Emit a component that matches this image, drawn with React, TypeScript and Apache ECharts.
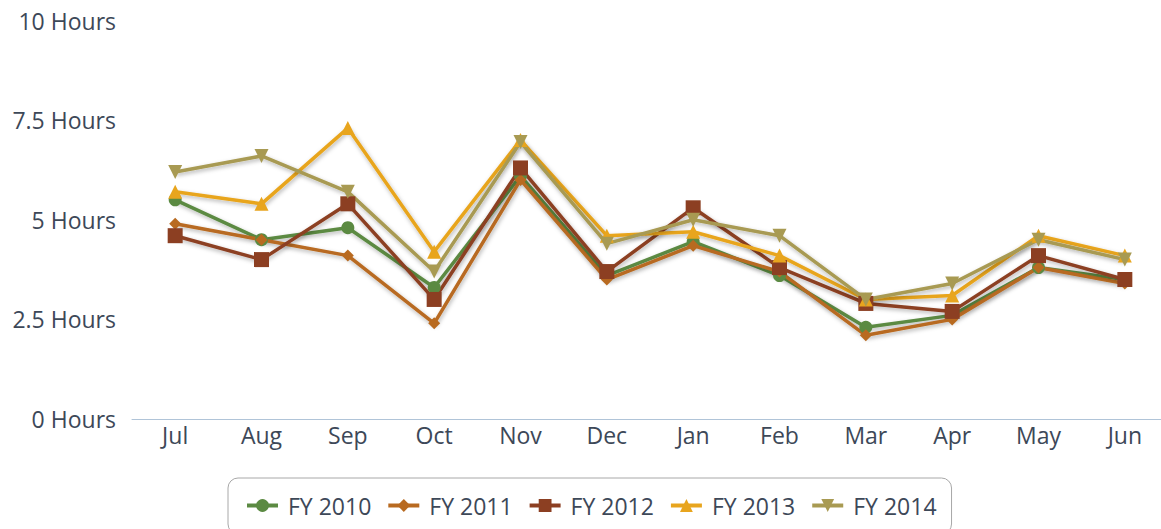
import React, { useEffect, useRef } from "react";
import * as echarts from "echarts";

const months = ["Jul", "Aug", "Sep", "Oct", "Nov", "Dec", "Jan", "Feb", "Mar", "Apr", "May", "Jun"];
const seriesNames = ["FY 2010", "FY 2011", "FY 2012", "FY 2013", "FY 2014"];
const fy2010 = [5.5, 4.5, 4.8, 3.3, 6.1, 3.6, 4.45, 3.6, 2.3, 2.6, 3.8, 3.5];
const fy2011 = [4.9, 4.5, 4.1, 2.4, 6.0, 3.5, 4.35, 3.7, 2.1, 2.5, 3.8, 3.4];
const fy2012 = [4.6, 4.0, 5.4, 3.0, 6.3, 3.7, 5.3, 3.8, 2.9, 2.7, 4.1, 3.5];
const fy2013 = [5.7, 5.4, 7.3, 4.2, 7.0, 4.6, 4.7, 4.1, 3.0, 3.1, 4.6, 4.1];
const fy2014 = [6.2, 6.6, 5.7, 3.7, 6.95, 4.4, 5.0, 4.6, 3.0, 3.4, 4.5, 4.0];
const yTicks = [0, 2.5, 5, 7.5, 10];

const colors = ["#5b8a42", "#b86a20", "#8c3f22", "#e8a51e", "#a89a52"];
const symbols = ["circle", "diamond", "rect", "triangle", "triangle"];
const symbolSizes = [13, 12, 15, 14, 14];
const rotates = [0, 0, 0, 0, 180];
const allData = [fy2010, fy2011, fy2012, fy2013, fy2014];

const FONT = "'Open Sans', sans-serif";
const TEXT = "#3d4858";

export default function App() {
  const ref = useRef<HTMLDivElement>(null);
  useEffect(() => {
    if (!ref.current) return;
    const chart = echarts.init(ref.current, undefined, { renderer: "svg" });
    chart.setOption({
      animation: false,
      textStyle: { fontFamily: FONT },
      grid: { left: 132, right: 0, top: 20.5, bottom: 110, containLabel: false },
      legend: {
        data: seriesNames,
        left: 228,
        top: 478,
        orient: "horizontal",
        itemWidth: 31,
        itemHeight: 16,
        itemGap: 15,
        padding: [16, 15, 17, 17],
        borderColor: "#a8a8a8",
        borderWidth: 1,
        borderRadius: 10,
        lineStyle: { width: 4 },
        textStyle: { color: TEXT, fontSize: 23, fontFamily: FONT, padding: [0, 0, 0, 5] },
      },
      xAxis: {
        type: "category",
        data: months,
        boundaryGap: true,
        axisLine: { lineStyle: { color: "#b0c4d8", width: 1 } },
        axisTick: { lineStyle: { color: "#b0c4d8" }, length: 7 },
        axisLabel: { color: TEXT, fontSize: 23, margin: 4, fontFamily: FONT },
        splitLine: { show: false },
      },
      yAxis: {
        type: "value",
        min: yTicks[0],
        max: yTicks[yTicks.length - 1],
        interval: 2.5,
        axisLine: { show: false },
        axisTick: { show: false },
        splitLine: { show: false },
        axisLabel: {
          color: TEXT,
          fontSize: 23,
          margin: 16,
          fontFamily: FONT,
          formatter: (v: number) => `${v} Hours`,
        },
      },
      series: allData.map((d, i) => ({
        name: seriesNames[i],
        type: "line",
        data: d,
        symbol: symbols[i],
        symbolSize: symbolSizes[i],
        symbolRotate: rotates[i],
        showAllSymbol: true,
        color: colors[i],
        lineStyle: {
          width: 3.5,
          color: colors[i],
          shadowColor: "rgba(0,0,0,0.3)",
          shadowBlur: 4,
          shadowOffsetX: 1,
          shadowOffsetY: 2,
        },
        itemStyle: { color: colors[i] },
      })),
    });
    return () => chart.dispose();
  }, []);
  return (
    <div style={{ position: "fixed", left: 0, top: 0, width: 1161, height: 529, overflow: "hidden", background: "#fff" }}>
      <div ref={ref} style={{ width: 1168, height: 529 }} />
    </div>
  );
}
